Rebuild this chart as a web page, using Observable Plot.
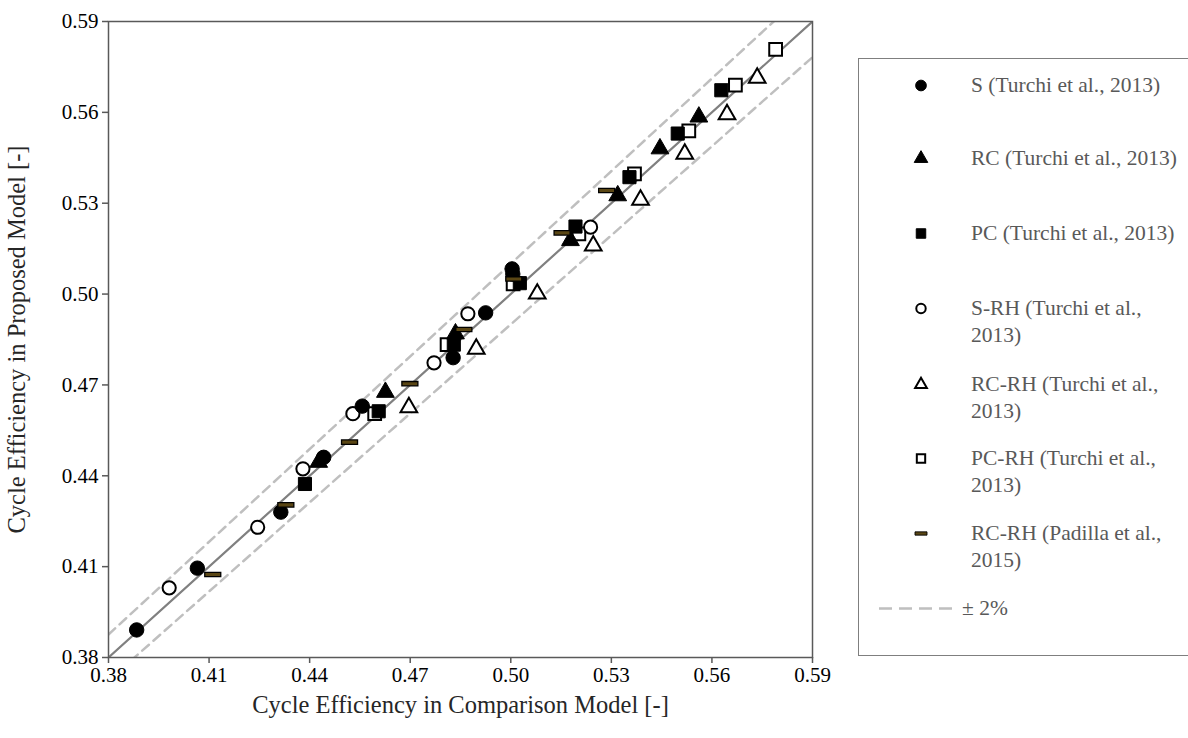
<!DOCTYPE html>
<html>
<head>
<meta charset="utf-8">
<script src="https://cdn.jsdelivr.net/npm/d3@7"></script>
<script src="https://cdn.jsdelivr.net/npm/@observablehq/plot@0.6"></script>
<style>
  html, body { margin: 0; padding: 0; background: #fff; overflow: hidden; }
  #wrap { position: relative; width: 1188px; height: 738px; font-family: "Liberation Serif", "Times New Roman", serif; }
  #chart { position: absolute; left: 0; top: 0; }
  #legend { position: absolute; left: 858px; top: 58px; width: 340px; height: 598px; border: 1.5px solid #7f7f7f; box-sizing: border-box; }
  .item { position: absolute; left: 0; width: 100%; }
  .item svg { position: absolute; left: 0; top: 0; }
  .item .txt { position: absolute; left: 112px; top: 0; font-size: 21.5px; line-height: 27px; color: #595959; white-space: nowrap; }
</style>
</head>
<body>
<div id="wrap">
  <div id="chart"></div>
  <div id="legend"></div>
</div>
<script>
// ---- Data ----
const seriesNames = [
  "S (Turchi et al., 2013)",
  "RC (Turchi et al., 2013)",
  "PC (Turchi et al., 2013)",
  "S-RH (Turchi et al., 2013)",
  "RC-RH (Turchi et al., 2013)",
  "PC-RH (Turchi et al., 2013)",
  "RC-RH (Padilla et al., 2015)"
];
const legendLines = [
  ["S (Turchi et al., 2013)"],
  ["RC (Turchi et al., 2013)"],
  ["PC (Turchi et al., 2013)"],
  ["S-RH (Turchi et al.,", "2013)"],
  ["RC-RH (Turchi et al.,", "2013)"],
  ["PC-RH (Turchi et al.,", "2013)"],
  ["RC-RH (Padilla et al.,", "2015)"]
];
const bandLabel = "± 2%";

const sX   = [0.3884, 0.4065, 0.4314, 0.4442, 0.4557, 0.4828, 0.4925, 0.5004, 0.5006];
const sY   = [0.3891, 0.4095, 0.4280, 0.4461, 0.4630, 0.4790, 0.4938, 0.5083, 0.5066];
const rcX  = [0.4427, 0.4626, 0.4835, 0.5178, 0.5319, 0.5445, 0.5561];
const rcY  = [0.4445, 0.4676, 0.4869, 0.5177, 0.5325, 0.5480, 0.5585];
const pcX  = [0.4386, 0.4606, 0.4830, 0.5027, 0.5193, 0.5354, 0.5498, 0.5628];
const pcY  = [0.4373, 0.4613, 0.4833, 0.5036, 0.5223, 0.5386, 0.5530, 0.5673];
const srhX = [0.3981, 0.4245, 0.4380, 0.4529, 0.4771, 0.4872, 0.5238];
const srhY = [0.4030, 0.4230, 0.4423, 0.4605, 0.4773, 0.4935, 0.5221];
const rcrhX = [0.4696, 0.4897, 0.5079, 0.5246, 0.5387, 0.5519, 0.5645, 0.5735];
const rcrhY = [0.4626, 0.4819, 0.5001, 0.5160, 0.5311, 0.5463, 0.5593, 0.5714];
const pcrhX = [0.4594, 0.4810, 0.5007, 0.5203, 0.5369, 0.5531, 0.5670, 0.5790];
const pcrhY = [0.4605, 0.4833, 0.5034, 0.5199, 0.5397, 0.5539, 0.5690, 0.5808];
const padX = [0.4111, 0.4329, 0.4519, 0.4699, 0.4860, 0.5009, 0.5153, 0.5286];
const padY = [0.4074, 0.4304, 0.4511, 0.4704, 0.4883, 0.5050, 0.5202, 0.5342];

const axisMin = 0.38, axisMax = 0.59;
const tickValues = [0.38, 0.41, 0.44, 0.47, 0.50, 0.53, 0.56, 0.59];
const refFactors = [1, 1.02, 0.98]; // parity line and ±2% band

const xTitle = "Cycle Efficiency in Comparison Model [-]";
const yTitle = "Cycle Efficiency in Proposed Model [-]";

// ---- Build ----
const pts = (xs, ys) => xs.map((x, i) => ({x, y: ys[i]}));

const dashSymbol = {
  draw(ctx, size) {
    const w = 8, h = 2.2;
    ctx.moveTo(-w, -h); ctx.lineTo(w, -h); ctx.lineTo(w, h); ctx.lineTo(-w, h); ctx.closePath();
  }
};

const refLines = refFactors.map(f => [axisMin, axisMax].map(x => ({x, y: x * f, f})));

const plot = Plot.plot({
  width: 850,
  height: 738,
  marginLeft: 108,
  marginRight: 38,
  marginTop: 21,
  marginBottom: 81,
  style: {fontFamily: "Liberation Serif, Times New Roman, serif", fontSize: "21px", color: "#000", background: "white"},
  x: {domain: [axisMin, axisMax], ticks: tickValues, tickFormat: d3.format(".2f"), tickSize: 6, tickPadding: 4,
      label: xTitle, labelAnchor: "center", labelArrow: "none", labelOffset: 55},
  y: {domain: [axisMin, axisMax], ticks: tickValues, tickFormat: d3.format(".2f"), tickSize: 6, tickPadding: 4,
      label: yTitle, labelAnchor: "center", labelArrow: "none", labelOffset: 101},
  marks: [
    Plot.line(refLines[1], {x: "x", y: "y", stroke: "#bfbfbf", strokeWidth: 2.5, strokeDasharray: "9,6", clip: true}),
    Plot.line(refLines[2], {x: "x", y: "y", stroke: "#bfbfbf", strokeWidth: 2.5, strokeDasharray: "9,6", clip: true}),
    Plot.line(refLines[0], {x: "x", y: "y", stroke: "#808080", strokeWidth: 2.2, clip: true}),
    Plot.dot(pts(rcrhX, rcrhY), {x: "x", y: "y", symbol: "triangle", r: 6.2, fill: "white", stroke: "black", strokeWidth: 2}),
    Plot.dot(pts(pcrhX, pcrhY), {x: "x", y: "y", symbol: "square", r: 7.2, fill: "white", stroke: "black", strokeWidth: 2}),
    Plot.dot(pts(srhX, srhY), {x: "x", y: "y", symbol: "circle", r: 6.6, fill: "white", stroke: "black", strokeWidth: 2}),
    Plot.dot(pts(rcX, rcY), {x: "x", y: "y", symbol: "triangle", r: 6.6, fill: "black", stroke: "black", strokeWidth: 1}),
    Plot.dot(pts(pcX, pcY), {x: "x", y: "y", symbol: "square", r: 7.4, fill: "black", stroke: "black", strokeWidth: 1}),
    Plot.dot(pts(sX, sY), {x: "x", y: "y", symbol: "circle", r: 7.2, fill: "black", stroke: "black", strokeWidth: 1}),
    Plot.dot(pts(padX, padY), {x: "x", y: "y", symbol: dashSymbol, r: 5, fill: "#5a4614", stroke: "black", strokeWidth: 1.3}),
    Plot.frame({stroke: "#595959", strokeWidth: 1.5})
  ]
});
document.getElementById("chart").appendChild(plot);

// style axis lines/ticks and titles
d3.select(plot).selectAll("g[aria-label='x-axis tick'], g[aria-label='y-axis tick']").attr("stroke", "#595959").attr("stroke-width", 1.5);
d3.select(plot).selectAll("g[aria-label='x-axis label'] text, g[aria-label='y-axis label'] text").style("font-size", "24.5px").attr("fill", "#262626");

// ---- Legend ----
const legend = document.getElementById("legend");
const rowCenters = [26, 99, 174, 249, 325, 399, 474];
const markerDefs = [
  {sym: d3.symbolCircle, size: 90, fill: "black", stroke: "black", sw: 1},
  {sym: d3.symbolTriangle, size: 80, fill: "black", stroke: "black", sw: 1},
  {sym: d3.symbolSquare, size: 90, fill: "black", stroke: "black", sw: 1},
  {sym: d3.symbolCircle, size: 70, fill: "white", stroke: "black", sw: 2},
  {sym: d3.symbolTriangle, size: 60, fill: "white", stroke: "black", sw: 2},
  {sym: d3.symbolSquare, size: 70, fill: "white", stroke: "black", sw: 2},
  {sym: dashSymbol, size: 0, fill: "#5a4614", stroke: "black", sw: 1.2}
];
seriesNames.forEach((name, i) => {
  const c = rowCenters[i];
  const div = document.createElement("div");
  div.className = "item";
  div.style.top = (c - 13.5) + "px";
  const m = markerDefs[i];
  const path = d3.symbol(m.sym, m.size)();
  div.innerHTML = `<svg width="100" height="27" viewBox="0 0 100 27"><path transform="translate(62,13.5)${i === 6 ? ' scale(0.75)' : ''}" d="${path}" fill="${m.fill}" stroke="${m.stroke}" stroke-width="${m.sw}"/></svg>` +
    `<div class="txt">${legendLines[i].join("<br>")}</div>`;
  legend.appendChild(div);
});
{
  const c = 549;
  const div = document.createElement("div");
  div.className = "item";
  div.style.top = (c - 13.5) + "px";
  div.innerHTML = `<svg width="110" height="27"><line x1="20" x2="100" y1="13.5" y2="13.5" stroke="#bfbfbf" stroke-width="2.5" stroke-dasharray="13,7"/></svg>` +
    `<div class="txt" style="left:103px">${bandLabel}</div>`;
  legend.appendChild(div);
}
</script>
</body>
</html>
